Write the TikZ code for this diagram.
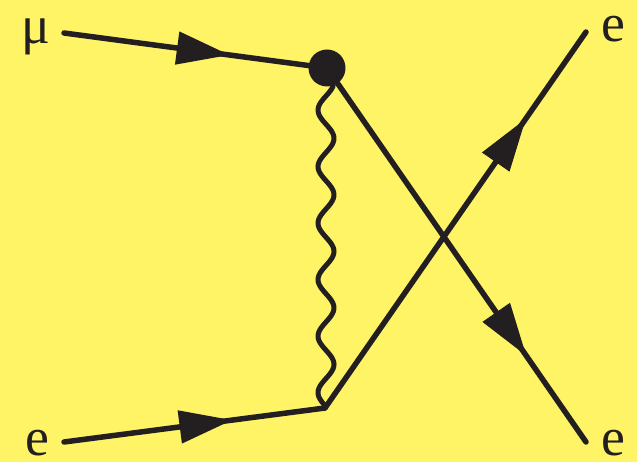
\documentclass[tikz,border=0pt]{standalone}
\usepackage{fontspec}
\setmainfont{Liberation Serif}
\usetikzlibrary{arrows.meta,decorations.markings}
\definecolor{bg}{RGB}{255,244,102}
\definecolor{ink}{RGB}{35,31,32}
\tikzset{
  fermion/.style={draw=ink, line width=5.5bp, line cap=round},
  midarrow/.style={postaction={decorate}, decoration={markings,
      mark=at position #1 with {\arrow[ink]{Triangle[length=53bp,width=32bp]}}}},
  lbl/.style={text=ink, font=\fontsize{54}{60}\selectfont, inner sep=0pt, anchor=base, text depth=0pt},
  vertexdot/.style={circle, fill=ink, minimum size=37bp, inner sep=0pt},
  photon/.style={draw=ink, line width=5bp, line cap=round},
}
\begin{document}
\begin{tikzpicture}[x=1bp,y=-1bp]
\fill[bg] (0,0) rectangle (637,462);
\useasboundingbox (0,0) rectangle (637,462);
\coordinate (mu) at (64,33);
\coordinate (v1) at (327,68);
\coordinate (ein) at (64,442);
\coordinate (v2) at (325,408);
\coordinate (eout1) at (586,32);
\coordinate (eout2) at (586,442);
\draw[photon] plot[smooth, samples=140, domain=86:406, variable=\t] ({326-8*sin(6.3717*(\t-96))}, \t);
\draw[fermion, midarrow=0.63] (mu) -- (v1);
\draw[fermion, midarrow=0.645] (ein) -- (v2);
\draw[fermion, midarrow=0.77] (v2) -- (eout1);
\draw[fermion, midarrow=0.77] (v1) -- (eout2);
\node[vertexdot] (dot) at (v1) {};
\node[lbl] (lmu) at (36,44) {μ};
\node[lbl] (le1) at (37,455) {e};
\node[lbl] (le2) at (613,42) {e};
\node[lbl] (le3) at (613,455) {e};
\end{tikzpicture}
\end{document}
